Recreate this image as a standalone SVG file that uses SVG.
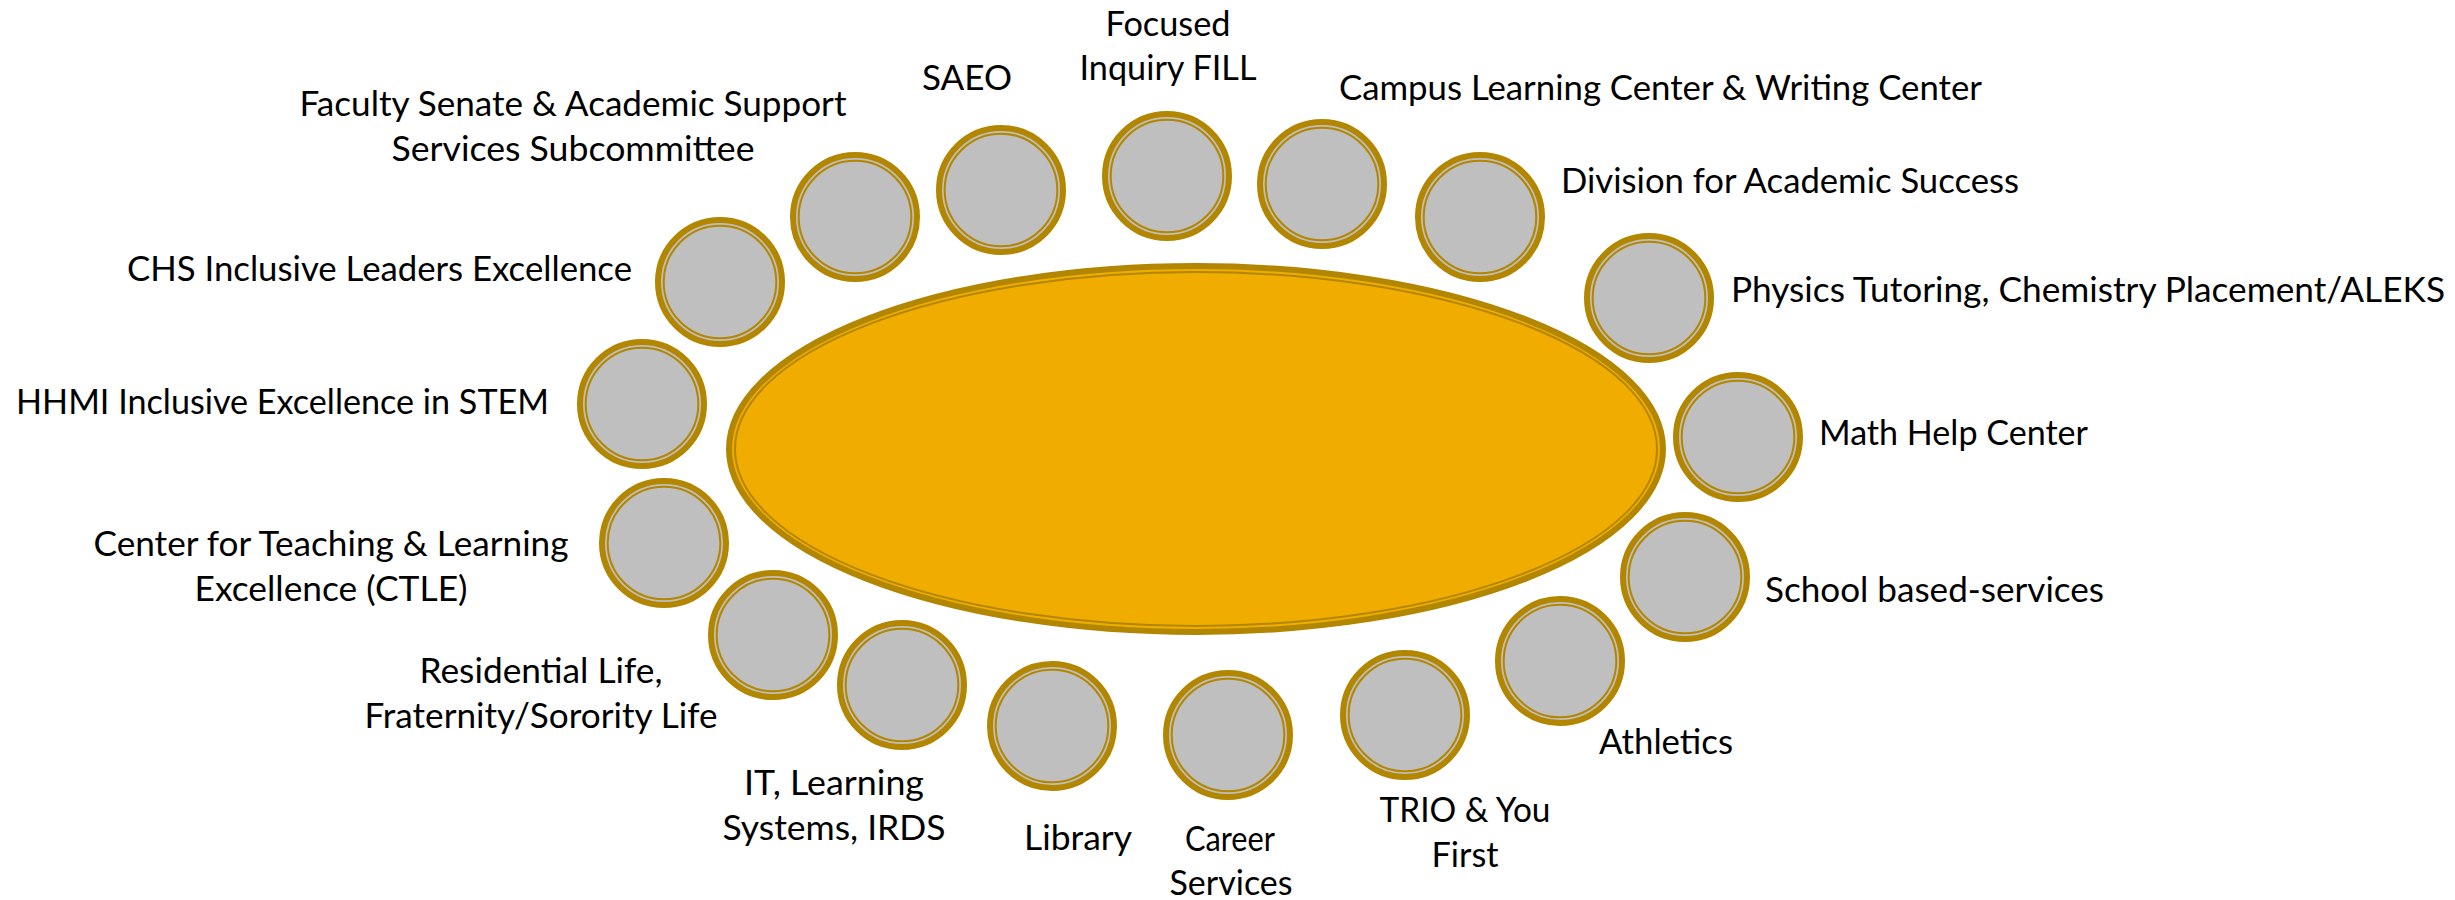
<svg xmlns="http://www.w3.org/2000/svg" width="2455" height="900" viewBox="0 0 2455 900">
<style>
.bg{fill:#FFFFFF}
.ring{fill:#BFBFBF;stroke:#B38600;stroke-width:6}
.inner{fill:none;stroke:#B38600;stroke-width:2}
.hub{fill:#F0AD00;stroke:#B38600;stroke-width:6}
.hubin{fill:none;stroke:#B38600;stroke-width:2}
.lbl{font-family:Lato,"Liberation Sans",sans-serif;font-size:35px;fill:#000000}
.mid{text-anchor:middle}
</style>
<rect class="bg" x="0" y="0" width="2455" height="900"/>
<g id="connectors"></g>
<g id="hub">
<ellipse class="hub" cx="1196" cy="449" rx="467" ry="183"/>
<ellipse class="hubin" cx="1196" cy="449" rx="461" ry="177"/>
</g>
<g id="n-hhmi">
<circle class="ring" cx="642" cy="404" r="62"/><circle class="inner" cx="642" cy="404" r="56.3"/>
<text class="lbl" x="16" y="414" textLength="533" lengthAdjust="spacingAndGlyphs">HHMI Inclusive Excellence in STEM</text>
</g>
<g id="n-chs">
<circle class="ring" cx="720" cy="282" r="62"/><circle class="inner" cx="720" cy="282" r="56.3"/>
<text class="lbl" x="127" y="281" textLength="505" lengthAdjust="spacingAndGlyphs">CHS Inclusive Leaders Excellence</text>
</g>
<g id="n-faculty">
<circle class="ring" cx="855" cy="217" r="62"/><circle class="inner" cx="855" cy="217" r="56.3"/>
<text class="lbl mid" x="573" y="116" textLength="547" lengthAdjust="spacingAndGlyphs">Faculty Senate &amp; Academic Support</text>
<text class="lbl mid" x="573" y="161" textLength="363" lengthAdjust="spacingAndGlyphs">Services Subcommittee</text>
</g>
<g id="n-saeo">
<circle class="ring" cx="1001" cy="190" r="62"/><circle class="inner" cx="1001" cy="190" r="56.3"/>
<text class="lbl mid" x="967" y="90" textLength="90" lengthAdjust="spacingAndGlyphs">SAEO</text>
</g>
<g id="n-focused">
<circle class="ring" cx="1167" cy="176" r="62"/><circle class="inner" cx="1167" cy="176" r="56.3"/>
<text class="lbl mid" x="1168" y="36" textLength="125" lengthAdjust="spacingAndGlyphs">Focused</text>
<text class="lbl mid" x="1168" y="80" textLength="177" lengthAdjust="spacingAndGlyphs">Inquiry FILL</text>
</g>
<g id="n-campus">
<circle class="ring" cx="1322" cy="184" r="62"/><circle class="inner" cx="1322" cy="184" r="56.3"/>
<text class="lbl" x="1339" y="100" textLength="643" lengthAdjust="spacingAndGlyphs">Campus Learning Center &amp; Writing Center</text>
</g>
<g id="n-division">
<circle class="ring" cx="1480" cy="217" r="62"/><circle class="inner" cx="1480" cy="217" r="56.3"/>
<text class="lbl" x="1561" y="193" textLength="458" lengthAdjust="spacingAndGlyphs">Division for Academic Success</text>
</g>
<g id="n-physics">
<circle class="ring" cx="1649" cy="298" r="62"/><circle class="inner" cx="1649" cy="298" r="56.3"/>
<text class="lbl" x="1731" y="302" textLength="714" lengthAdjust="spacingAndGlyphs">Physics Tutoring, Chemistry Placement/ALEKS</text>
</g>
<g id="n-math">
<circle class="ring" cx="1738" cy="437" r="62"/><circle class="inner" cx="1738" cy="437" r="56.3"/>
<text class="lbl" x="1819" y="445" textLength="269" lengthAdjust="spacingAndGlyphs">Math Help Center</text>
</g>
<g id="n-school">
<circle class="ring" cx="1685" cy="577" r="62"/><circle class="inner" cx="1685" cy="577" r="56.3"/>
<text class="lbl" x="1765" y="602" textLength="339" lengthAdjust="spacingAndGlyphs">School based-services</text>
</g>
<g id="n-athletics">
<circle class="ring" cx="1560" cy="661" r="62"/><circle class="inner" cx="1560" cy="661" r="56.3"/>
<text class="lbl mid" x="1666" y="754" textLength="134" lengthAdjust="spacingAndGlyphs">Athletics</text>
</g>
<g id="n-trio">
<circle class="ring" cx="1405" cy="715" r="62"/><circle class="inner" cx="1405" cy="715" r="56.3"/>
<text class="lbl mid" x="1465" y="822" textLength="171" lengthAdjust="spacingAndGlyphs">TRIO &amp; You</text>
<text class="lbl mid" x="1465" y="867" textLength="67" lengthAdjust="spacingAndGlyphs">First</text>
</g>
<g id="n-career">
<circle class="ring" cx="1228" cy="735" r="62"/><circle class="inner" cx="1228" cy="735" r="56.3"/>
<text class="lbl mid" x="1230" y="851" textLength="90" lengthAdjust="spacingAndGlyphs">Career</text>
<text class="lbl mid" x="1231" y="895" textLength="123" lengthAdjust="spacingAndGlyphs">Services</text>
</g>
<g id="n-library">
<circle class="ring" cx="1052" cy="726" r="62"/><circle class="inner" cx="1052" cy="726" r="56.3"/>
<text class="lbl mid" x="1078" y="850" textLength="108" lengthAdjust="spacingAndGlyphs">Library</text>
</g>
<g id="n-it">
<circle class="ring" cx="902" cy="685" r="62"/><circle class="inner" cx="902" cy="685" r="56.3"/>
<text class="lbl mid" x="834" y="795" textLength="180" lengthAdjust="spacingAndGlyphs">IT, Learning</text>
<text class="lbl mid" x="834" y="840" textLength="223" lengthAdjust="spacingAndGlyphs">Systems, IRDS</text>
</g>
<g id="n-residential">
<circle class="ring" cx="773" cy="635" r="62"/><circle class="inner" cx="773" cy="635" r="56.3"/>
<text class="lbl mid" x="541" y="683" textLength="243" lengthAdjust="spacingAndGlyphs">Residential Life,</text>
<text class="lbl mid" x="541" y="728" textLength="353" lengthAdjust="spacingAndGlyphs">Fraternity/Sorority Life</text>
</g>
<g id="n-ctle">
<circle class="ring" cx="664" cy="543" r="62"/><circle class="inner" cx="664" cy="543" r="56.3"/>
<text class="lbl mid" x="331" y="556" textLength="475" lengthAdjust="spacingAndGlyphs">Center for Teaching &amp; Learning</text>
<text class="lbl mid" x="331" y="601" textLength="273" lengthAdjust="spacingAndGlyphs">Excellence (CTLE)</text>
</g>
</svg>
